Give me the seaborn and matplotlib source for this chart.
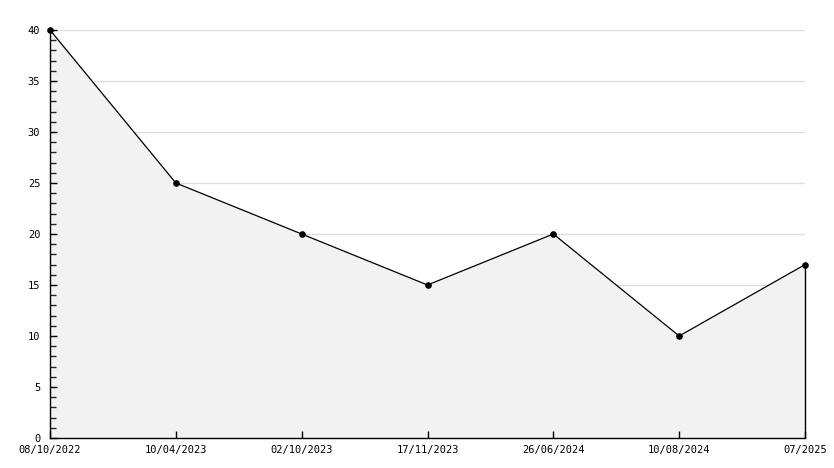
import numpy as np
import pandas as pd
import matplotlib
matplotlib.use("Agg")
import matplotlib.pyplot as plt
import seaborn as sns
from matplotlib.ticker import MultipleLocator

dates = ["08/10/2022", "10/04/2023", "02/10/2023", "17/11/2023",
         "26/06/2024", "10/08/2024", "07/2025"]
values = [40, 25, 20, 15, 20, 10, 17]

df = pd.DataFrame({"pos": np.arange(len(dates)), "value": values})

sns.set_style("white")
plt.rcParams['font.family'] = ['DejaVu Sans Mono']
plt.rcParams['font.size'] = 7.5

fig = plt.figure(figsize=(8.34, 4.68), dpi=100)
ax = fig.add_axes([50 / 834, 1 - 438 / 468, 755 / 834, 408 / 468])

ax.set_xlim(0, len(dates) - 1)
ax.set_ylim(0, 40)
ax.yaxis.set_major_locator(MultipleLocator(5))
ax.yaxis.set_minor_locator(MultipleLocator(1))

# gridlines sit behind the shaded area
for yv in range(5, 41, 5):
    ax.axhline(yv, color="#dddddd", lw=1, zorder=0.1)

# shaded area under the line
ax.fill_between(df["pos"], 0, df["value"], color="#f2f2f2", zorder=0.3)
ax.vlines(df["pos"].iloc[-1], 0, df["value"].iloc[-1], color="black", lw=1,
          zorder=3, clip_on=False)

sns.lineplot(data=df, x="pos", y="value", ax=ax, color="black", lw=0.9,
             marker="o", markersize=4, markeredgecolor="black", zorder=4,
             clip_on=False)

ax.set_xticks(df["pos"])
ax.set_xticklabels(dates)
ax.grid(False)

for s in ["top", "right"]:
    ax.spines[s].set_visible(False)
for s in ["left", "bottom"]:
    ax.spines[s].set_color("black")
    ax.spines[s].set_linewidth(1)

ax.tick_params(axis="y", which="major", direction="in", length=5, width=1,
               left=True, pad=7, colors="black")
ax.tick_params(axis="y", which="minor", direction="in", length=4, width=1, left=True)
ax.tick_params(axis="x", which="major", direction="in", length=5, width=1,
               bottom=True, pad=5, colors="black")
ax.set_xlabel("")
ax.set_ylabel("")

fig.savefig("out.png", dpi=100)
